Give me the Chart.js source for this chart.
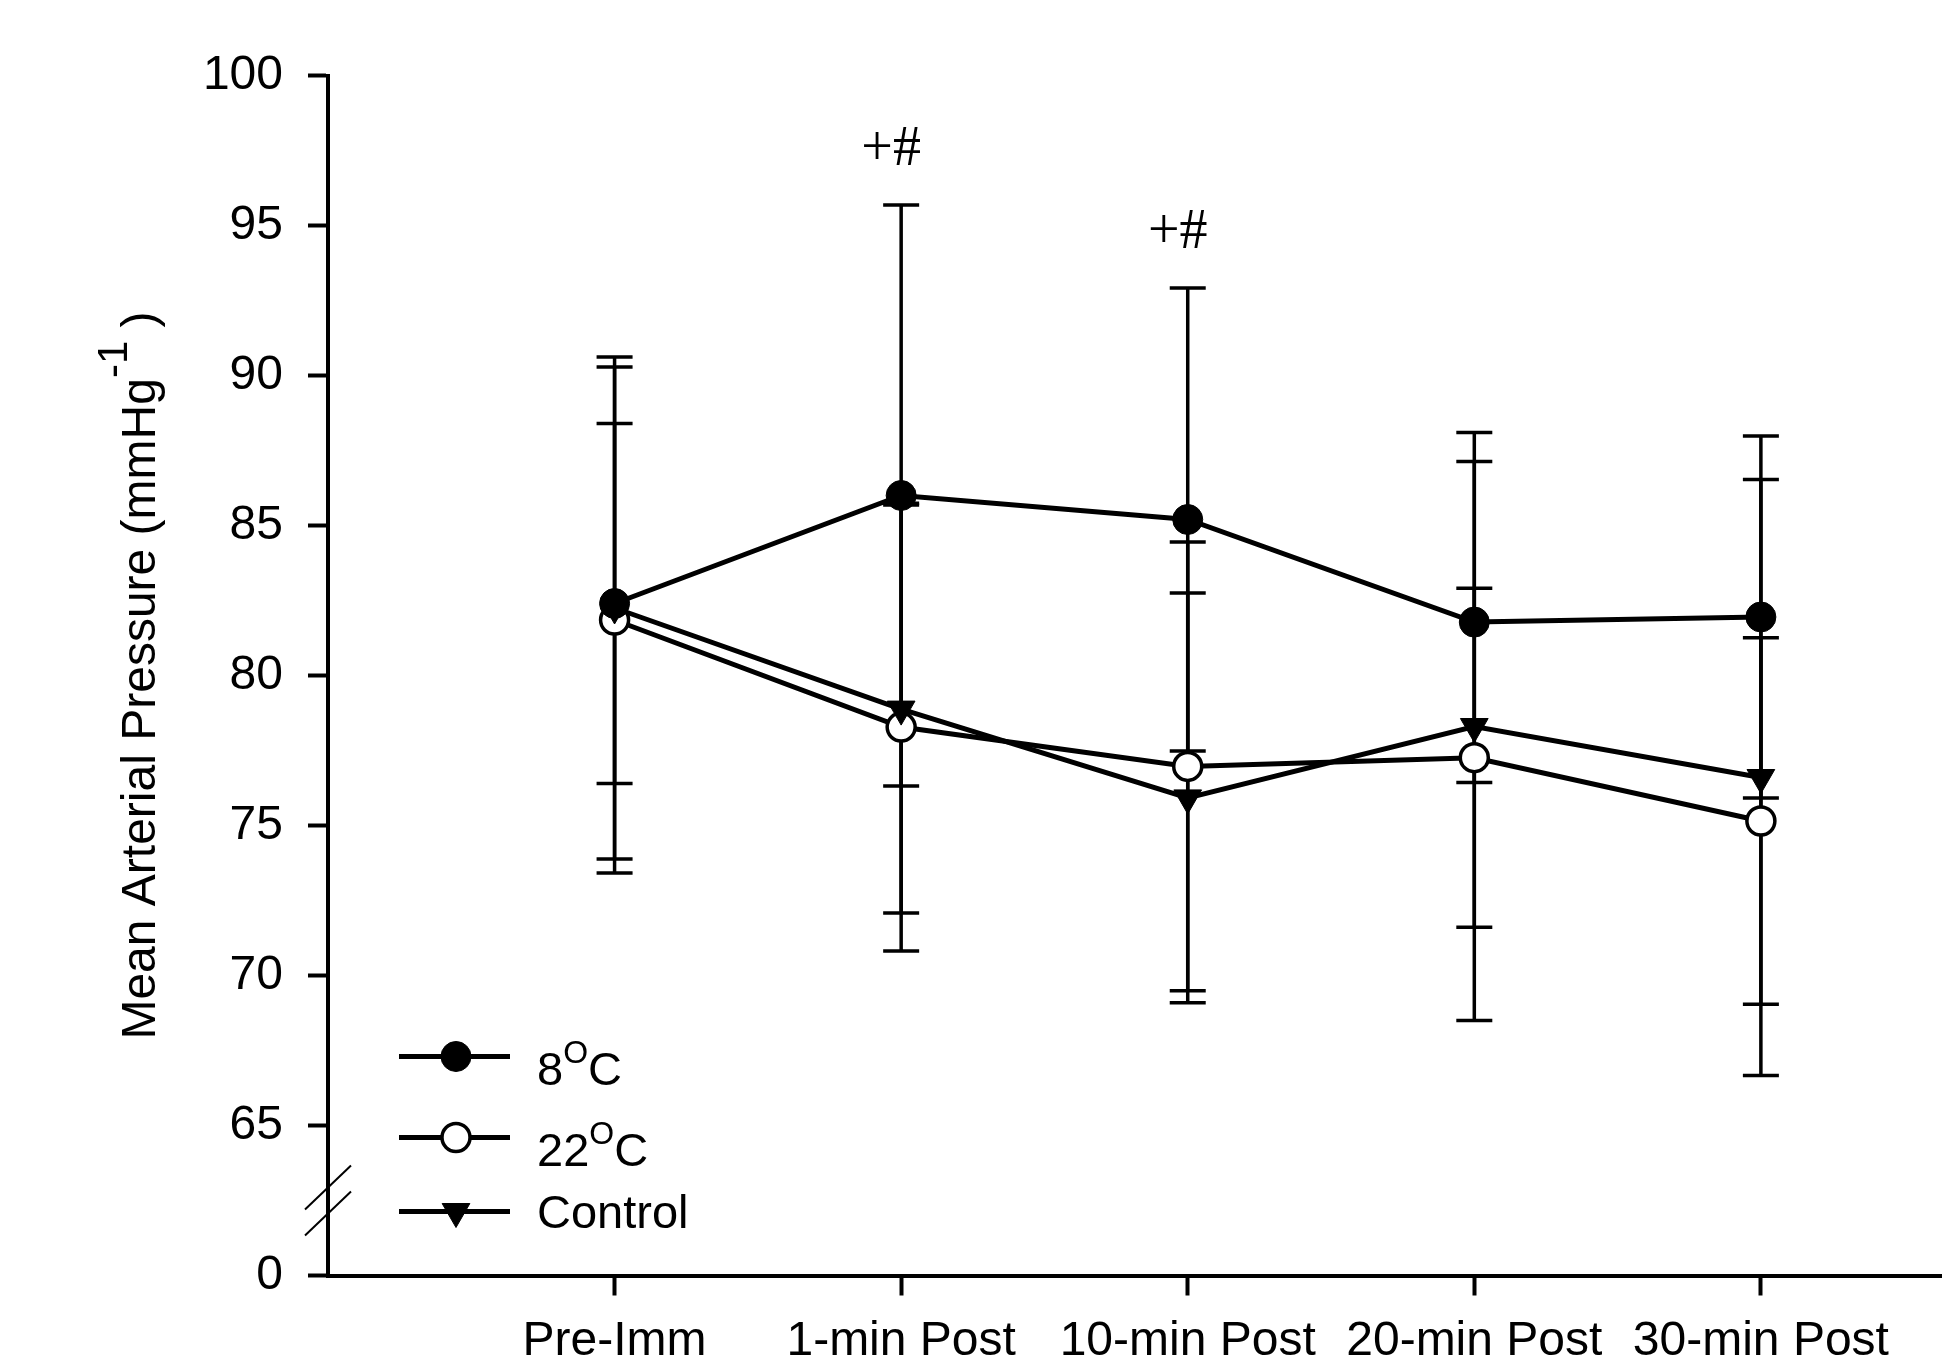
<!DOCTYPE html>
<html>
<head>
<meta charset="utf-8">
<script src="https://cdn.jsdelivr.net/npm/chart.js@4.4.0/dist/chart.umd.min.js"></script>
<style>
    html, body { margin: 0; padding: 0; background: #fff; }
    #wrap { width: 1942px; height: 1364px; }
</style>
</head>
<body>
<div id="wrap"><canvas id="chart" width="1942" height="1364"></canvas></div>
<script>
// values (mean and SD, mmHg)
const timePoints = ['Pre-Imm', '1-min Post', '10-min Post', '20-min Post', '30-min Post'];
const mean8 = [82.4, 86.0, 85.2, 81.78, 81.95];
const sd8 = [6.0, 9.68, 7.72, 5.35, 6.03];
const mean22 = [81.85, 78.28, 76.97, 77.26, 75.15];
const sd22 = [8.43, 7.46, 7.48, 5.65, 6.11];
const meanControl = [82.25, 78.88, 75.92, 78.3, 76.6];
const sdControl = [8.37, 6.8, 6.83, 9.8, 9.93];
const sigMarks = ['', '+#', '+#', '', ''];
const seriesLabels = ['8^O^C', '22^O^C', 'Control'];
const yTicks = [60, 65, 70, 75, 80, 85, 90, 95, 100];
const yTickLabels = ['0', '65', '70', '75', '80', '85', '90', '95', '100'];
const yTitle = 'Mean Arterial Pressure (mmHg^-1^ )';

const fontSans = "'Liberation Sans', Arial, sans-serif";
const fontSerif = "'Liberation Serif', 'Times New Roman', serif";
Chart.defaults.font.family = fontSans;
Chart.defaults.color = '#000';

// '^' toggles superscript
function parseRich(s) {
    return s.split('^').map((t, i) => ({ t: t, sup: i % 2 === 1 })).filter(p => p.t.length);
}

function richWidth(ctx, parts, size, supSize) {
    let w = 0;
    parts.forEach(p => {
        ctx.font = (p.sup ? supSize : size) + 'px ' + fontSans;
        w += ctx.measureText(p.t).width;
    });
    return w;
}

function drawRich(ctx, parts, x, y, size, supSize, supRise) {
    let cx = x;
    parts.forEach(p => {
        ctx.font = (p.sup ? supSize : size) + 'px ' + fontSans;
        ctx.fillText(p.t, cx, p.sup ? y - supRise : y);
        cx += ctx.measureText(p.t).width;
    });
    return cx;
}

function toPoints(arr) {
    return arr.map((v, i) => ({ x: i, y: v }));
}

const errorBars = {
    id: 'errorBars',
    beforeDatasetsDraw(chart) {
        const ctx = chart.ctx;
        const xs = chart.scales.x, ys = chart.scales.y;
        ctx.save();
        ctx.strokeStyle = '#000';
        ctx.lineWidth = 3.5;
        chart.data.datasets.forEach(ds => {
            ds.data.forEach((p, i) => {
                const x = xs.getPixelForValue(p.x);
                const top = ys.getPixelForValue(p.y + ds.sd[i]);
                const bot = ys.getPixelForValue(p.y - ds.sd[i]);
                ctx.beginPath();
                ctx.moveTo(x, top);
                ctx.lineTo(x, bot);
                ctx.moveTo(x - 18, top);
                ctx.lineTo(x + 18, top);
                ctx.moveTo(x - 18, bot);
                ctx.lineTo(x + 18, bot);
                ctx.stroke();
            });
        });
        ctx.restore();
    }
};

const extras = {
    id: 'extras',
    afterDraw(chart) {
        const ctx = chart.ctx;
        const area = chart.chartArea;
        const xs = chart.scales.x, ys = chart.scales.y;
        ctx.save();
        ctx.fillStyle = '#000';
        ctx.strokeStyle = '#000';

        // significance marks above the highest error bar
        ctx.font = '56px ' + fontSerif;
        ctx.textAlign = 'center';
        ctx.textBaseline = 'alphabetic';
        sigMarks.forEach((m, i) => {
            if (!m) return;
            let hi = -Infinity;
            chart.data.datasets.forEach(ds => { hi = Math.max(hi, ds.data[i].y + ds.sd[i]); });
            ctx.fillText(m, xs.getPixelForValue(i) - 10, ys.getPixelForValue(hi) - 40);
        });

        // axis break marks between 65 and 0
        const bx = area.left;
        const by = ys.getPixelForValue(62.5);
        ctx.lineWidth = 2;
        [-13, 13].forEach(d => {
            ctx.beginPath();
            ctx.moveTo(bx - 23, by + d + 22);
            ctx.lineTo(bx + 23, by + d - 22);
            ctx.stroke();
        });

        // y axis title
        ctx.textAlign = 'left';
        const tParts = parseRich(yTitle);
        const tw = richWidth(ctx, tParts, 48, 42);
        ctx.translate(area.left - 173, (area.top + area.bottom) / 2);
        ctx.rotate(-Math.PI / 2);
        drawRich(ctx, tParts, -tw / 2, 0, 48, 42, 28);
        ctx.restore();

        // legend inside plot, bottom left
        ctx.save();
        const rowYs = [area.bottom - 219, area.bottom - 138, area.bottom - 64];
        const lx0 = area.left + 71, lx1 = area.left + 182, mx = area.left + 128, tx = area.left + 209;
        chart.data.datasets.forEach((ds, i) => {
            const y = rowYs[i];
            ctx.strokeStyle = '#000';
            ctx.lineWidth = ds.borderWidth;
            ctx.beginPath();
            ctx.moveTo(lx0, y);
            ctx.lineTo(lx1, y);
            ctx.stroke();
            ctx.fillStyle = ds.pointBackgroundColor;
            ctx.strokeStyle = ds.pointBorderColor;
            ctx.lineWidth = ds.pointBorderWidth;
            Chart.helpers.drawPoint(ctx, {
                pointStyle: ds.pointStyle,
                radius: ds.pointRadius,
                rotation: ds.pointRotation || 0,
                borderWidth: ds.pointBorderWidth
            }, mx, y);
            const parts = parseRich(seriesLabels[i]);
            const hasSup = parts.some(p => p.sup);
            ctx.fillStyle = '#000';
            ctx.textBaseline = 'alphabetic';
            drawRich(ctx, parts, tx, y + 16 + (hasSup ? 12 : 0), 47, 32, 22);
        });
        ctx.restore();
    }
};

const ctx = document.getElementById('chart').getContext('2d');
new Chart(ctx, {
    type: 'line',
    data: {
        datasets: [{
            label: '8°C',
            data: toPoints(mean8),
            sd: sd8,
            order: 0,
            borderColor: '#000',
            borderWidth: 5,
            pointStyle: 'circle',
            pointRadius: 15,
            pointBackgroundColor: '#000',
            pointBorderColor: '#000',
            pointBorderWidth: 1
        }, {
            label: '22°C',
            data: toPoints(mean22),
            sd: sd22,
            order: 2,
            borderColor: '#000',
            borderWidth: 5,
            pointStyle: 'circle',
            pointRadius: 14,
            pointBackgroundColor: '#fff',
            pointBorderColor: '#000',
            pointBorderWidth: 3.5
        }, {
            label: 'Control',
            data: toPoints(meanControl),
            sd: sdControl,
            order: 1,
            borderColor: '#000',
            borderWidth: 5,
            pointStyle: 'triangle',
            pointRotation: 180,
            pointRadius: 16,
            pointBackgroundColor: '#000',
            pointBorderColor: '#000',
            pointBorderWidth: 1
        }]
    },
    options: {
        responsive: false,
        animation: false,
        devicePixelRatio: 1,
        layout: { autoPadding: false, padding: { top: 75.5, left: 0, right: 0, bottom: 0 } },
        elements: { line: { tension: 0 } },
        plugins: {
            legend: { display: false },
            tooltip: { enabled: false }
        },
        scales: {
            x: {
                type: 'linear',
                min: -1,
                max: 4.632,
                afterBuildTicks: s => { s.ticks = timePoints.map((_, i) => ({ value: i })); },
                afterFit: s => { s.height = 88.5; s.paddingLeft = 0; s.paddingRight = 0; },
                ticks: {
                    callback: v => timePoints[v],
                    font: { size: 48 },
                    color: '#000',
                    padding: 17,
                    maxRotation: 0,
                    autoSkip: false
                },
                grid: { drawOnChartArea: false, tickLength: 20, tickWidth: 4, tickColor: '#000' },
                border: { display: true, color: '#000', width: 4 }
            },
            y: {
                min: 60,
                max: 100,
                afterBuildTicks: s => { s.ticks = yTicks.map(v => ({ value: v })); },
                afterFit: s => { s.width = 328; s.paddingTop = 0; s.paddingBottom = 0; },
                ticks: {
                    callback: v => yTickLabels[yTicks.indexOf(v)],
                    font: { size: 48 },
                    color: '#000',
                    padding: 25
                },
                grid: { drawOnChartArea: false, tickLength: 20, tickWidth: 4, tickColor: '#000' },
                border: { display: true, color: '#000', width: 4 }
            }
        }
    },
    plugins: [errorBars, extras]
});
</script>
</body>
</html>
